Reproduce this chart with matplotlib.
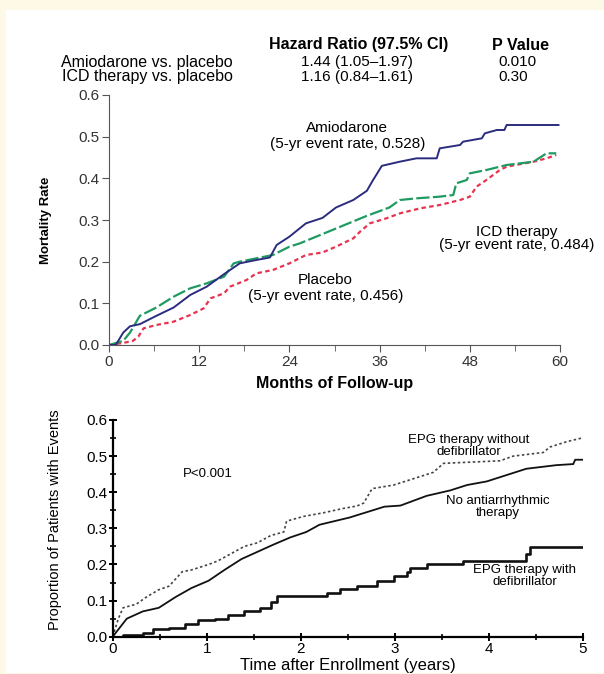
import numpy as np
import matplotlib
matplotlib.use("Agg")
import matplotlib.pyplot as plt
from matplotlib.patches import Rectangle
from matplotlib.ticker import MultipleLocator

plt.rcParams["font.family"] = ["Liberation Sans", "DejaVu Sans"]

# --- top panel: months of follow-up vs mortality rate
amio_m = [0, 0.9, 1.9, 2.8, 4.1, 6.3, 8.6, 10.8, 13.0, 15.3, 17.4, 19.6, 21.4, 22.3, 24.0,
          26.2, 28.4, 30.2, 32.5, 34.3, 35.1, 36.3, 38.7, 40.9, 43.6, 44.0, 46.7, 47.1,
          49.6, 50.0, 51.6, 52.6, 52.9, 59.8]
amio_v = [0, 0, 0.03, 0.045, 0.05, 0.07, 0.09, 0.12, 0.14, 0.17, 0.196, 0.204, 0.21, 0.24, 0.26,
          0.292, 0.305, 0.33, 0.348, 0.37, 0.395, 0.43, 0.44, 0.448, 0.448, 0.472, 0.48, 0.488,
          0.496, 0.508, 0.516, 0.516, 0.528, 0.528]

icd_m = [0, 1.9, 2.8, 4.1, 6.3, 8.6, 10.8, 13.0, 15.3, 16.6, 17.4, 19.6, 21.8, 24.0, 25.4,
         28.1, 31.6, 34.3, 37.3, 38.7, 40.9, 44.0, 45.8, 46.2, 47.6, 48.0, 50.2, 52.0, 52.9,
         56.5, 58.2, 59.5]
icd_v = [0, 0.01, 0.03, 0.07, 0.09, 0.116, 0.136, 0.148, 0.164, 0.196, 0.2, 0.208, 0.216, 0.236, 0.244,
         0.264, 0.29, 0.31, 0.33, 0.348, 0.352, 0.356, 0.36, 0.388, 0.396, 0.412, 0.42, 0.428, 0.432,
         0.44, 0.46, 0.46]

plac_m = [0, 1.9, 3.2, 3.9, 4.6, 6.3, 8.6, 10.8, 12.6, 13.5, 15.3, 16.1, 18.3, 19.6, 21.8, 24.0,
          26.2, 28.4, 30.2, 32.5, 33.4, 34.7, 36.9, 38.7, 41.4, 44.0, 46.7, 48.0, 48.9, 50.2,
          52.0, 52.9, 56.5, 58.2, 59.5]
plac_v = [0, 0.005, 0.01, 0.02, 0.04, 0.048, 0.056, 0.072, 0.088, 0.112, 0.124, 0.14, 0.156, 0.172,
          0.18, 0.196, 0.216, 0.222, 0.236, 0.256, 0.272, 0.292, 0.304, 0.316, 0.328, 0.336, 0.348,
          0.356, 0.38, 0.396, 0.42, 0.428, 0.44, 0.448, 0.456]

# --- bottom panel: years after enrollment vs proportion with events
epg_no_y = [0, 0.06, 0.11, 0.25, 0.36, 0.49, 0.6, 0.74, 0.84, 1.02, 1.12, 1.26, 1.4, 1.54, 1.68,
            1.82, 1.85, 2.03, 2.24, 2.45, 2.6, 2.67, 2.76, 2.99, 3.23, 3.41, 3.52, 4.12, 4.26,
            4.58, 4.65, 4.83, 4.99]
epg_no_v = [0, 0.05, 0.08, 0.09, 0.11, 0.13, 0.14, 0.18, 0.185, 0.2, 0.21, 0.23, 0.25, 0.26, 0.28,
            0.29, 0.32, 0.333, 0.343, 0.355, 0.362, 0.37, 0.41, 0.42, 0.44, 0.455, 0.48, 0.487, 0.5,
            0.51, 0.525, 0.54, 0.55]

none_y = [0, 0.15, 0.32, 0.49, 0.67, 0.84, 1.02, 1.19, 1.37, 1.54, 1.71, 1.89, 2.06, 2.2, 2.52,
          2.89, 3.06, 3.34, 3.59, 3.77, 3.98, 4.16, 4.4, 4.72, 4.9, 4.92, 5.0]
none_v = [0, 0.05, 0.07, 0.08, 0.11, 0.135, 0.155, 0.185, 0.215, 0.235, 0.255, 0.275, 0.29, 0.31,
          0.33, 0.36, 0.363, 0.39, 0.405, 0.42, 0.43, 0.445, 0.465, 0.475, 0.478, 0.49, 0.49]

epg_def_y = [0, 0.11, 0.32, 0.43, 0.6, 0.77, 0.91, 1.09, 1.23, 1.4, 1.57, 1.68, 1.75, 2.28, 2.42,
             2.6, 2.81, 2.99, 3.13, 3.16, 3.34, 3.73, 4.4, 4.44, 5.0]
epg_def_v = [0, 0.005, 0.01, 0.02, 0.025, 0.035, 0.045, 0.05, 0.06, 0.07, 0.08, 0.095, 0.113, 0.122,
             0.131, 0.14, 0.155, 0.168, 0.178, 0.19, 0.2, 0.21, 0.228, 0.247, 0.247]

W, H = 604, 674
fig = plt.figure(figsize=(W / 100, H / 100), dpi=100)
fig.patch.set_facecolor("#fdf9e6")
fig.patches.append(Rectangle((6 / W, 1 / H), 1, (H - 11) / H, transform=fig.transFigure,
                             facecolor="white", edgecolor="none", zorder=-10))


def fx(px):
    return px / W


def fy(py):
    return 1 - py / H


# header table
fig.text(fx(359), fy(45), "Hazard Ratio (97.5% CI)", ha="center", va="center",
         fontsize=11.5, fontweight="bold")
fig.text(fx(521), fy(45), "P Value", ha="center", va="center", fontsize=11.5, fontweight="bold")
rows = ["Amiodarone vs. placebo", "ICD therapy vs. placebo"]
hr = ["1.44 (1.05\u20131.97)", "1.16 (0.84\u20131.61)"]
pv = ["0.010", "0.30"]
for i, ry in enumerate([62, 77]):
    fig.text(fx(233), fy(ry), rows[i], ha="right", va="center", fontsize=11.5)
    fig.text(fx(301), fy(ry), hr[i], ha="left", va="center", fontsize=11)
    fig.text(fx(498), fy(ry), pv[i], ha="left", va="center", fontsize=11)

# top axes
ax1 = fig.add_axes([fx(109), fy(345), fx(560) - fx(109), fy(95) - fy(345)])
ax1.plot(plac_m, plac_v, color="#e8334f", lw=1.6, linestyle=(0, (2, 1.5)))
ax1.plot(icd_m, icd_v, color="#1f9b62", lw=1.6, linestyle=(0, (6, 1.5)))
ax1.plot(amio_m, amio_v, color="#2b2c7e", lw=1.4)
ax1.set_xlim(0, 60)
ax1.set_ylim(0, 0.6)
ax1.xaxis.set_major_locator(MultipleLocator(12))
ax1.xaxis.set_minor_locator(MultipleLocator(6))
ax1.yaxis.set_major_locator(MultipleLocator(0.1))
ax1.yaxis.set_major_formatter(plt.FormatStrFormatter("%.1f"))
for s in ["top", "right"]:
    ax1.spines[s].set_visible(False)
for s in ["left", "bottom"]:
    ax1.spines[s].set_color("#555555")
ax1.tick_params(which="major", length=5, color="#555555", labelcolor="#333333",
                labelsize=11, pad=2)
ax1.tick_params(which="minor", length=4, color="#555555")
ax1.set_xlabel("Months of Follow-up", fontsize=11.5, fontweight="bold", labelpad=5)
ax1.set_ylabel("Mortality Rate", fontsize=9.5, fontweight="bold", labelpad=19)
ax1.patch.set_alpha(0)

ax1.text(31.7, 0.52, "Amiodarone", ha="center", va="center", fontsize=11)
ax1.text(31.7, 0.482, "(5-yr event rate, 0.528)", ha="center", va="center", fontsize=11)
ax1.text(54.3, 0.271, "ICD therapy", ha="center", va="center", fontsize=11)
ax1.text(54.3, 0.24, "(5-yr event rate, 0.484)", ha="center", va="center", fontsize=11,
         clip_on=False)
ax1.text(28.8, 0.156, "Placebo", ha="center", va="center", fontsize=11)
ax1.text(28.8, 0.118, "(5-yr event rate, 0.456)", ha="center", va="center", fontsize=11)

# bottom axes
ax2 = fig.add_axes([fx(112.7), fy(636.7), fx(582.7) - fx(112.7), fy(420) - fy(636.7)])
ax2.plot(epg_no_y, epg_no_v, color="#444444", lw=1.2, linestyle=(0, (1.5, 1.5)))
ax2.plot(none_y, none_v, color="#111111", lw=1.3)
ax2.plot(epg_def_y, epg_def_v, drawstyle="steps-post", color="#111111", lw=1.9)
ax2.set_xlim(0, 5)
ax2.set_ylim(0, 0.6)
ax2.xaxis.set_major_locator(MultipleLocator(1))
ax2.xaxis.set_minor_locator(MultipleLocator(0.5))
ax2.yaxis.set_major_locator(MultipleLocator(0.1))
ax2.yaxis.set_minor_locator(MultipleLocator(0.05))
ax2.yaxis.set_major_formatter(plt.FormatStrFormatter("%.1f"))
for s in ["top", "right"]:
    ax2.spines[s].set_visible(False)
for s in ["left", "bottom"]:
    ax2.spines[s].set_linewidth(1.6)
ax2.tick_params(which="major", direction="inout", length=6, width=1.4, labelsize=11, pad=1)
ax2.tick_params(which="minor", direction="inout", length=4, width=1.2)
ax2.set_xlabel("Time after Enrollment (years)", fontsize=12, labelpad=1)
ax2.set_ylabel("Proportion of Patients with Events", fontsize=10.5)
ax2.yaxis.set_label_coords(-0.108, 0.54)
ax2.patch.set_alpha(0)

ax2.text(1.01, 0.45, "P<0.001", ha="center", va="center", fontsize=9.5)
ax2.text(3.79, 0.527, "EPG therapy without\ndefibrillator", ha="center", va="center",
         fontsize=9.5, linespacing=1.0)
ax2.text(4.1, 0.36, "No antiarrhythmic\ntherapy", ha="center", va="center",
         fontsize=9.5, linespacing=1.0)
ax2.text(4.38, 0.168, "EPG therapy with\ndefibrillator", ha="center", va="center",
         fontsize=9.5, linespacing=1.0)

fig.savefig("out.png", dpi=100)
